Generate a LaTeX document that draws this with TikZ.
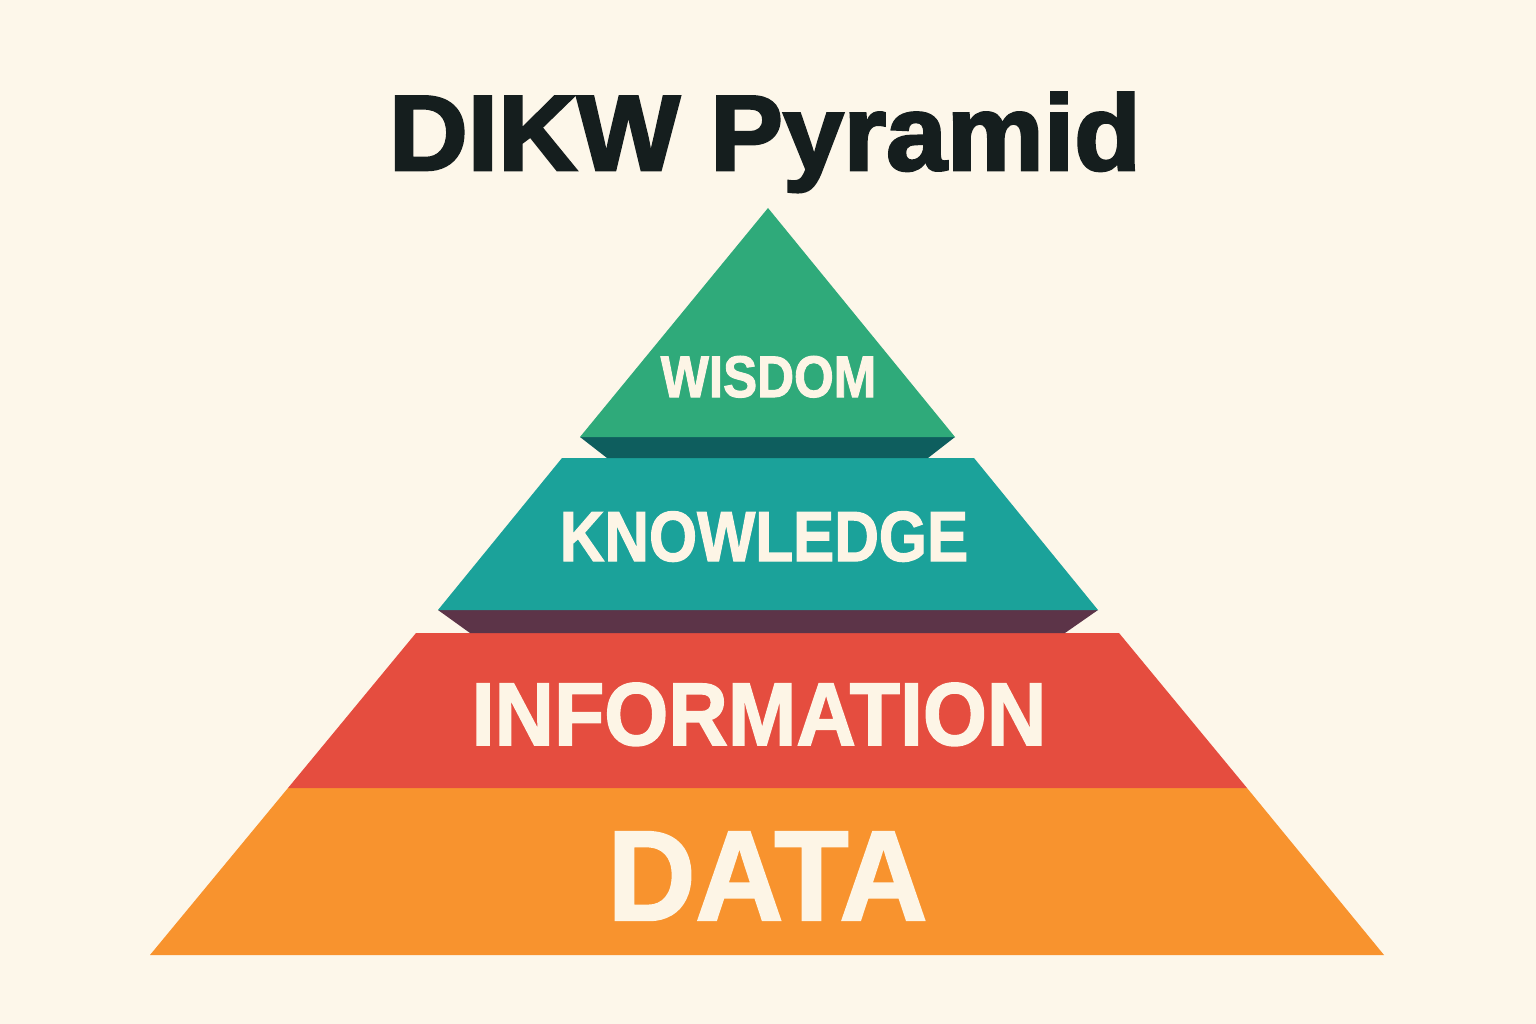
\documentclass[tikz,border=0pt]{standalone}
\usepackage{fontspec}
\usepackage{graphicx}
\setmainfont{Liberation Sans}
\newfontfamily\heavyfont{Liberation Sans}[BoldFeatures={FakeBold=2.5}]
\newfontfamily\labelfont{Liberation Sans}[BoldFeatures={FakeBold=1.8}]
\definecolor{bgc}{RGB}{253,247,234}
\definecolor{wisc}{RGB}{47,170,122}
\definecolor{wisd}{RGB}{14,94,94}
\definecolor{knoc}{RGB}{27,162,154}
\definecolor{knod}{RGB}{92,52,72}
\definecolor{infc}{RGB}{229,77,63}
\definecolor{datc}{RGB}{248,147,46}
\definecolor{txtc}{RGB}{253,245,230}
\definecolor{titc}{RGB}{21,30,30}
\tikzset{
  layerlabel/.style={inner sep=0pt, anchor=base, text=txtc, font=\labelfont\bfseries},
  titlelabel/.style={inner sep=0pt, anchor=base, text=titc, font=\heavyfont\bfseries\fontsize{107}{110}\selectfont},
}
\begin{document}
\begin{tikzpicture}[x=1pt,y=-1pt]
\fill[bgc] (0,0) rectangle (1536,1024);
\useasboundingbox (0,0) rectangle (1536,1024);
% data
\fill[datc] (288,788) -- (1247,788) -- (1384,955) -- (150,955) -- cycle;
% information
\fill[infc] (416,633) -- (1119,633) -- (1247,788) -- (288,788) -- cycle;
% knowledge shadow
\fill[knod] (438,610) -- (1098,610) -- (1065,633) -- (470,633) -- cycle;
% knowledge
\fill[knoc] (562,458) -- (974,458) -- (1098,610) -- (438,610) -- cycle;
% wisdom shadow
\fill[wisd] (580,437) -- (955,437) -- (928,458) -- (607,458) -- cycle;
% wisdom
\fill[wisc] (768,208) -- (955,437) -- (580,437) -- cycle;
% labels
\node[titlelabel] (title) at (765,170) {\scalebox{1.02}[1]{DIKW Pyramid}};
\node[layerlabel] (wisdom) at (768.5,397) {\fontsize{58.7}{60}\selectfont\scalebox{0.87}[1]{WISDOM}};
\node[layerlabel] (knowledge) at (764,561) {\fontsize{71}{72}\selectfont\scalebox{0.87}[1]{KNOWLEDGE}};
\node[layerlabel] (information) at (759,745) {\fontsize{89}{90}\selectfont\scalebox{0.925}[1]{INFORMATION}};
\node[layerlabel] (data) at (767.5,920) {\fontsize{128}{130}\selectfont\scalebox{0.95}[1]{DATA}};
\end{tikzpicture}
\end{document}
